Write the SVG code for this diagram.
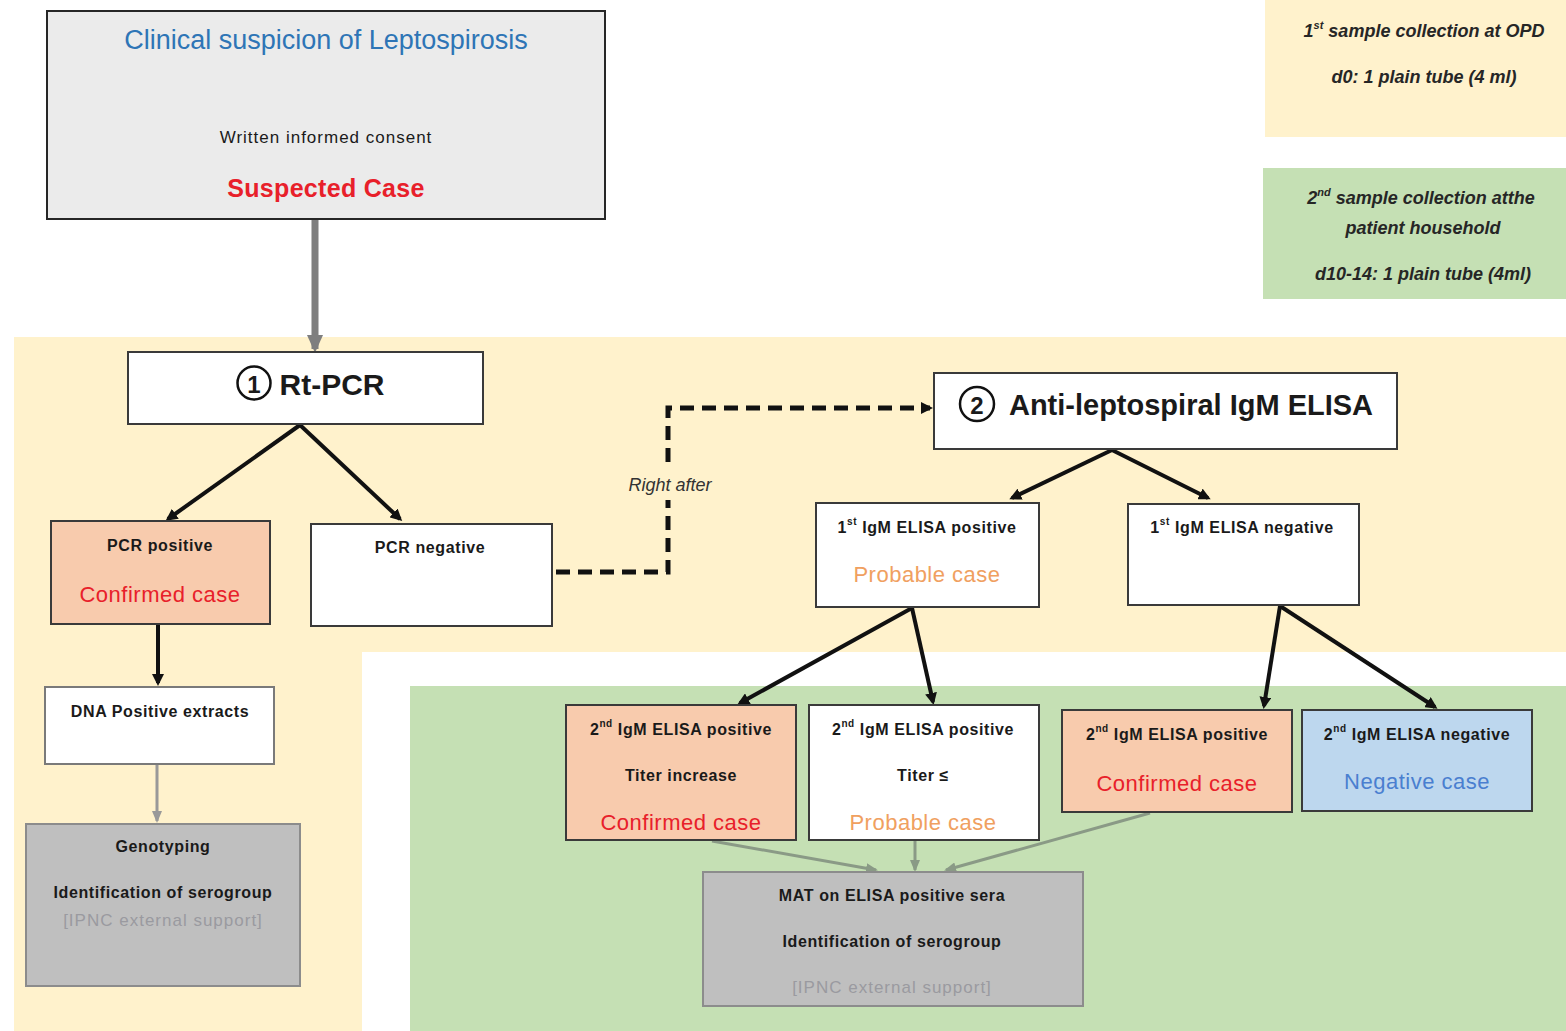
<svg xmlns="http://www.w3.org/2000/svg" width="1566" height="1031" viewBox="0 0 1566 1031">
<style>
text{font-family:"Liberation Sans",Arial,sans-serif;text-anchor:middle;dominant-baseline:central;fill:#1a1a1a}
.box{stroke:#3a3a3a;stroke-width:2}
.w{fill:#ffffff}
.s{fill:#f8cbad}
.b{fill:#bdd7ee}
.g{fill:#bfbfbf;stroke:#8c8c8c}
.sm{font-size:16px;font-weight:bold;letter-spacing:0.6px}
.red{fill:#e8202a;font-size:22px;letter-spacing:0.5px}
.org{fill:#f0a060;font-size:22px;letter-spacing:0.5px}
.blu{fill:#4a7fd0;font-size:22px;letter-spacing:0.5px}
.ext{fill:#9a9aa0;font-size:17px;letter-spacing:1px}
.big{font-size:30px;font-weight:bold}
.leg{font-size:18px;font-weight:bold;font-style:italic;fill:#262626}
.con{fill:none;stroke:#111;stroke-width:4}
.gc{fill:none;stroke:#8a9a86;stroke-width:3}
</style>
<defs>
<marker id="ah" markerWidth="12" markerHeight="12" refX="9" refY="6" orient="auto" markerUnits="userSpaceOnUse"><path d="M0,0 L12,6 L0,12 Z" fill="#111"/></marker>
<marker id="ahg" markerWidth="18" markerHeight="16" refX="14" refY="8" orient="auto" markerUnits="userSpaceOnUse"><path d="M0,0 L18,8 L0,16 Z" fill="#7f7f7f"/></marker>
<marker id="ahgg" markerWidth="12" markerHeight="10" refX="10" refY="5" orient="auto" markerUnits="userSpaceOnUse"><path d="M0,0 L12,5 L0,10 Z" fill="#8a9a86"/></marker>
<marker id="ahgr" markerWidth="12" markerHeight="10" refX="10" refY="5" orient="auto" markerUnits="userSpaceOnUse"><path d="M0,0 L12,5 L0,10 Z" fill="#999"/></marker>
</defs>
<rect x="0" y="0" width="1566" height="1031" fill="#ffffff"/>
<path d="M14,337 H1566 V652 H362 V1031 H14 Z" fill="#fff2cc"/>
<rect x="410" y="686" width="1156" height="345" fill="#c5e0b4"/>
<g id="legend1"><rect x="1265" y="0" width="301" height="137" fill="#fff2cc"/>
<text class="leg" x="1424" y="31">1<tspan font-size="11" dy="-6">st</tspan><tspan dy="6"> sample collection at OPD</tspan></text>
<text class="leg" x="1424" y="77">d0: 1 plain tube (4 ml)</text></g>
<g id="legend2"><rect x="1263" y="168" width="303" height="131" fill="#c5e0b4"/>
<text class="leg" x="1421" y="198">2<tspan font-size="11" dy="-6">nd</tspan><tspan dy="6"> sample collection atthe</tspan></text>
<text class="leg" x="1423" y="228">patient household</text>
<text class="leg" x="1423" y="274">d10-14: 1 plain tube (4ml)</text></g>

<g id="connectors">
<line x1="315" y1="220" x2="315" y2="349" stroke="#7f7f7f" stroke-width="7" marker-end="url(#ahg)"/>
<line class="con" x1="300" y1="425" x2="168" y2="519" marker-end="url(#ah)"/>
<line class="con" x1="300" y1="425" x2="400" y2="519" marker-end="url(#ah)"/>
<line class="con" x1="158" y1="625" x2="158" y2="683" marker-end="url(#ah)"/>
<line x1="157" y1="765" x2="157" y2="821" stroke="#999" stroke-width="3" marker-end="url(#ahgr)"/>
<path d="M556,572 H668 V500" fill="none" stroke="#111" stroke-width="5" stroke-dasharray="14,8"/>
<path d="M668,462 V408 H930" fill="none" stroke="#111" stroke-width="5" stroke-dasharray="14,8" marker-end="url(#ah)"/>
<line class="con" x1="1112" y1="450" x2="1012" y2="498" marker-end="url(#ah)"/>
<line class="con" x1="1112" y1="450" x2="1208" y2="498" marker-end="url(#ah)"/>
<line class="con" x1="912" y1="608" x2="740" y2="703" marker-end="url(#ah)"/>
<line class="con" x1="912" y1="608" x2="933" y2="702" marker-end="url(#ah)"/>
<line class="con" x1="1280" y1="606" x2="1264" y2="706" marker-end="url(#ah)"/>
<line class="con" x1="1280" y1="606" x2="1435" y2="707" marker-end="url(#ah)"/>
<line class="gc" x1="712" y1="841" x2="876" y2="870" marker-end="url(#ahgg)"/>
<line class="gc" x1="915" y1="841" x2="915" y2="870" marker-end="url(#ahgg)"/>
<line class="gc" x1="1150" y1="813" x2="946" y2="870" marker-end="url(#ahgg)"/>
</g>

<g id="clinical"><rect x="47" y="11" width="558" height="208" fill="#ebebeb" stroke="#262626" stroke-width="2"/>
<text x="326" y="40" font-size="27" style="fill:#2e75b6">Clinical suspicion of Leptospirosis</text>
<text x="326" y="137" font-size="17" letter-spacing="1">Written informed consent</text>
<text class="red" x="326" y="188" style="font-size:25px;font-weight:bold;letter-spacing:0.3px">Suspected Case</text></g>

<g id="rtpcr"><rect class="box w" x="128" y="352" width="355" height="72"/>
<circle cx="254" cy="383" r="16.5" fill="none" stroke="#111" stroke-width="2.5"/>
<text x="254" y="384" font-size="24" font-weight="bold">1</text>
<text class="big" x="332" y="384">Rt-PCR</text></g>

<g id="pcrpos"><rect class="box s" x="51" y="521" width="219" height="103"/>
<text class="sm" x="160" y="545">PCR positive</text>
<text class="red" x="160" y="594">Confirmed case</text></g>

<g id="pcrneg"><rect class="box w" x="311" y="524" width="241" height="102"/>
<text class="sm" x="430" y="547">PCR negative</text></g>

<g id="dna"><rect class="box w" x="45" y="687" width="229" height="77" style="stroke:#7a7a7a"/>
<text class="sm" x="160" y="711">DNA Positive extracts</text></g>

<g id="genotyping"><rect class="box g" x="26" y="824" width="274" height="162"/>
<text class="sm" x="163" y="846">Genotyping</text>
<text class="sm" x="163" y="892">Identification of serogroup</text>
<text class="ext" x="163" y="920">[IPNC external support]</text></g>

<text x="670" y="485" font-size="18" font-style="italic" style="fill:#333">Right after</text>

<g id="elisa"><rect class="box w" x="934" y="373" width="463" height="76"/>
<circle cx="977" cy="404" r="17" fill="none" stroke="#111" stroke-width="2.5"/>
<text x="977" y="405" font-size="24" font-weight="bold">2</text>
<text class="big" x="1191" y="405" style="font-size:29px">Anti-leptospiral IgM ELISA</text></g>

<g id="elisa1pos"><rect class="box w" x="816" y="503" width="223" height="104"/>
<text class="sm" x="927" y="527">1<tspan font-size="10" dy="-6">st</tspan><tspan dy="6"> IgM ELISA positive</tspan></text>
<text class="org" x="927" y="574">Probable case</text></g>

<g id="elisa1neg"><rect class="box w" x="1128" y="504" width="231" height="101"/>
<text class="sm" x="1242" y="527">1<tspan font-size="10" dy="-6">st</tspan><tspan dy="6"> IgM ELISA negative</tspan></text></g>

<g id="elisa2a"><rect class="box s" x="566" y="705" width="230" height="135"/>
<text class="sm" x="681" y="729">2<tspan font-size="10" dy="-6">nd</tspan><tspan dy="6"> IgM ELISA positive</tspan></text>
<text class="sm" x="681" y="775">Titer increase</text>
<text class="red" x="681" y="822">Confirmed case</text></g>

<g id="elisa2b"><rect class="box w" x="809" y="705" width="230" height="135"/>
<text class="sm" x="923" y="729">2<tspan font-size="10" dy="-6">nd</tspan><tspan dy="6"> IgM ELISA positive</tspan></text>
<text class="sm" x="923" y="775">Titer ≤</text>
<text class="org" x="923" y="822">Probable case</text></g>

<g id="elisa2c"><rect class="box s" x="1062" y="710" width="230" height="102"/>
<text class="sm" x="1177" y="734">2<tspan font-size="10" dy="-6">nd</tspan><tspan dy="6"> IgM ELISA positive</tspan></text>
<text class="red" x="1177" y="783">Confirmed case</text></g>

<g id="elisa2d"><rect class="box b" x="1302" y="710" width="230" height="101"/>
<text class="sm" x="1417" y="734">2<tspan font-size="10" dy="-6">nd</tspan><tspan dy="6"> IgM ELISA negative</tspan></text>
<text class="blu" x="1417" y="781">Negative case</text></g>

<g id="mat"><rect class="box g" x="703" y="872" width="380" height="134"/>
<text class="sm" x="892" y="895">MAT on ELISA positive sera</text>
<text class="sm" x="892" y="941">Identification of serogroup</text>
<text class="ext" x="892" y="987">[IPNC external support]</text></g>
</svg>
